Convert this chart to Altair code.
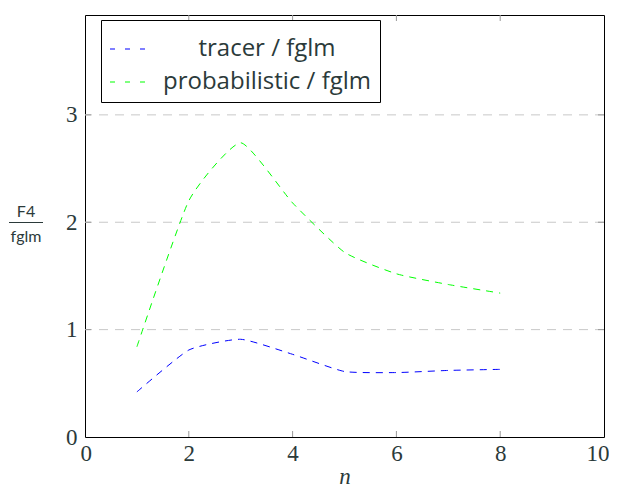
import altair as alt
import pandas as pd

n_vals = [1, 2, 3, 4, 5, 6, 7, 8]
tracer = [0.42, 0.81, 0.91, 0.77, 0.61, 0.60, 0.62, 0.63]
probabilistic = [0.84, 2.20, 2.74, 2.18, 1.72, 1.52, 1.42, 1.34]
series_names = ["tracer / fglm", "probabilistic / fglm"]
series_colors = ["#0000ff", "#00ff00"]
x_ticks = [0, 2, 4, 6, 8, 10]
y_ticks = [0, 1, 2, 3]
y_grid = [1, 2, 3]

W, H = 519, 422
YMAX = 3.93

rows = []
for name, vals in zip(series_names, [tracer, probabilistic]):
    for n, v in zip(n_vals, vals):
        rows.append({"n": n, "ratio": v, "series": name})
df = pd.DataFrame(rows)

xscale = alt.Scale(domain=[0, 10], nice=False)
yscale = alt.Scale(domain=[0, YMAX], nice=False)
tick_color = "#2b3a3a"

x_axis = alt.Axis(values=x_ticks, title="n", grid=False, ticks=False, domain=False,
                  labelFont="Liberation Serif", labelFontSize=23, labelColor=tick_color,
                  labelPadding=5, labelFlush=True, labelFlushOffset=5,
                  titleFont="Liberation Serif",
                  titleFontStyle="italic", titleFontWeight="normal", titleFontSize=23,
                  titleColor=tick_color, titlePadding=0, format="d")
y_axis = alt.Axis(values=y_ticks, title=None, grid=False, ticks=False, domain=False,
                  labelFont="Liberation Serif", labelFontSize=23, labelColor=tick_color,
                  labelPadding=8, labelFlush=False, format="d")

grid = alt.Chart(pd.DataFrame({"g": y_grid})).mark_rule(
    color="#c8c8c8", strokeWidth=1, strokeDash=[9, 7]
).encode(y=alt.Y("g:Q", scale=yscale, axis=y_axis))

lines = alt.Chart(df).mark_line(
    interpolate="cardinal", tension=0.5, strokeWidth=1, strokeDash=[7, 6]
).encode(
    x=alt.X("n:Q", scale=xscale, axis=x_axis),
    y=alt.Y("ratio:Q", scale=yscale, axis=y_axis),
    color=alt.Color("series:N", scale=alt.Scale(domain=series_names, range=series_colors),
                    sort=series_names,
                    legend=alt.Legend(title=None, orient="none", legendX=16, legendY=5,
                                      symbolType="stroke", symbolSize=1600, symbolStrokeWidth=1.2,
                                      symbolDash=[5, 10], labelFont="Open Sans", labelFontSize=24,
                                      labelColor=tick_color, labelAlign="center", labelOffset=116,
                                      padding=8, rowPadding=0, strokeColor="#000000",
                                      fillColor="#ffffff", labelLimit=400)),
)

xt = pd.DataFrame({"t": [2, 4, 6, 8]})
yt = pd.DataFrame({"t": [1, 2, 3]})
tick_gray = "#999999"
xtick_bottom = alt.Chart(xt).mark_rule(color=tick_gray).encode(
    x=alt.X("t:Q", scale=xscale), y=alt.value(H), y2=alt.value(H - 6))
xtick_top = alt.Chart(xt).mark_rule(color=tick_gray).encode(
    x=alt.X("t:Q", scale=xscale), y=alt.value(0), y2=alt.value(6))
ytick_left = alt.Chart(yt).mark_rule(color=tick_gray).encode(
    y=alt.Y("t:Q", scale=yscale), x=alt.value(0), x2=alt.value(6))
ytick_right = alt.Chart(yt).mark_rule(color=tick_gray).encode(
    y=alt.Y("t:Q", scale=yscale), x=alt.value(W), x2=alt.value(W - 6))

ylab = pd.DataFrame({"num": ["F4"], "den": ["fglm"]})
num = alt.Chart(ylab).mark_text(font="Lato", fontSize=16, color=tick_color).encode(
    text="num:N", x=alt.value(-59), y=alt.value(197))
den = alt.Chart(ylab).mark_text(font="Lato", fontSize=16, color=tick_color).encode(
    text="den:N", x=alt.value(-59), y=alt.value(222))
bar = alt.Chart(ylab).mark_rule(color=tick_color, strokeWidth=1).encode(
    x=alt.value(-76), x2=alt.value(-42), y=alt.value(207.5))

chart = alt.layer(grid, xtick_bottom, xtick_top, ytick_left, ytick_right, lines, num, den, bar).properties(
    width=W, height=H,
    autosize=alt.AutoSizeParams(type="none"),
    padding={"left": 77, "top": 7, "right": 5, "bottom": 51},
).configure_view(stroke="#000000", strokeWidth=1)

chart.save("out.html", embed_options={"renderer": "svg", "actions": False})
